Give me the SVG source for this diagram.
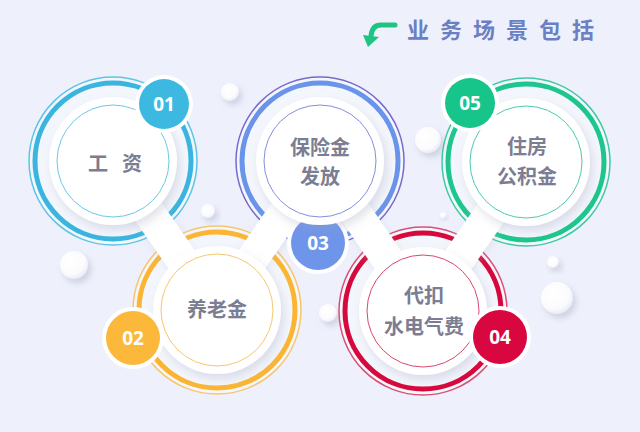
<svg xmlns="http://www.w3.org/2000/svg" width="640" height="432" viewBox="0 0 640 432">
<defs>
<filter id="sh" x="-30%" y="-30%" width="160%" height="160%">
<feDropShadow dx="3" dy="5" stdDeviation="5" flood-color="#9aa0b8" flood-opacity="0.3"/>
</filter>
<filter id="shn" x="-30%" y="-30%" width="160%" height="160%">
<feDropShadow dx="1" dy="2" stdDeviation="4" flood-color="#b4b8cc" flood-opacity="0.25"/>
</filter>
<filter id="shs" x="-50%" y="-50%" width="200%" height="200%">
<feDropShadow dx="3" dy="4" stdDeviation="3" flood-color="#9aa0b8" flood-opacity="0.4"/>
</filter>
<radialGradient id="ball" cx="0.4" cy="0.35" r="0.7">
<stop offset="0" stop-color="#ffffff"/>
<stop offset="0.7" stop-color="#fbfbfe"/>
<stop offset="1" stop-color="#e6e8f2"/>
</radialGradient>
<style>
.halo{fill:#ffffff;fill-opacity:0.35}
.thick{fill:none;stroke-width:5}
.thin{fill:none;stroke-width:1.5}
.disc{fill:#ffffff;filter:url(#sh)}
.inner{fill:#ffffff;stroke-width:1}
.lbl{font-family:"Noto Sans CJK SC","Noto Sans",sans-serif;font-weight:700;font-size:20px;fill:#7b7d92;text-anchor:middle}
.num{font-family:"Open Sans","Noto Sans",sans-serif;font-weight:700;font-size:19px;fill:#ffffff;text-anchor:middle}
.bw{fill:#ffffff}
.neck{stroke:#ffffff;stroke-width:32;stroke-linecap:round;fill:none}
.ball{fill:url(#ball);filter:url(#shs)}
</style>
</defs>
<rect width="640" height="432" fill="#eef1fc"/>

<!-- title -->
<g id="title">
<path d="M395,25 H381 Q372,25 371,36" fill="none" stroke="#1fc383" stroke-width="5" stroke-linecap="round"/>
<polygon points="363,35 379,37 368,47" fill="#1fc383"/>
<text x="407" y="38" font-family="Noto Sans CJK SC,Noto Sans,sans-serif" font-weight="700" font-size="22" letter-spacing="11" fill="#6b80c4">业务场景包括</text>
</g>

<!-- decorative spheres -->
<g id="spheres">
<circle class="ball" cx="230" cy="92" r="9"/>
<circle class="ball" cx="428" cy="140" r="13"/>
<circle class="ball" cx="74" cy="265" r="14"/>
<circle class="ball" cx="208" cy="211" r="7"/>
<circle class="ball" cx="443" cy="215" r="3"/>
<circle class="ball" cx="553" cy="262" r="6"/>
<circle class="ball" cx="557" cy="298" r="16"/>
<circle class="ball" cx="328" cy="313" r="9"/>
</g>

<!-- rings -->
<g id="rings">
<g id="rings-01">
<circle class="halo" cx="113" cy="161" r="84"/>
<circle class="thin" cx="113" cy="161" r="84" stroke="#5cc4e6"/>
<circle class="thick" cx="113" cy="161" r="78" stroke="#3ab5df"/>
</g>
<g id="rings-03">
<circle class="halo" cx="320" cy="161" r="84"/>
<circle class="thin" cx="320" cy="161" r="84" stroke="#7a68cc"/>
<circle class="thick" cx="320" cy="161" r="78" stroke="#6a93ea"/>
</g>
<g id="rings-05">
<circle class="halo" cx="526" cy="162" r="84"/>
<circle class="thin" cx="526" cy="162" r="84" stroke="#3fcaa2"/>
<circle class="thick" cx="526" cy="162" r="78" stroke="#1dc68c"/>
</g>
<g id="rings-02">
<circle class="halo" cx="217" cy="310" r="84"/>
<circle class="thin" cx="217" cy="310" r="84" stroke="#f7c66c"/>
<circle class="thick" cx="217" cy="310" r="78" stroke="#fbb532"/>
</g>
<g id="rings-04">
<circle class="halo" cx="423" cy="311" r="84"/>
<circle class="thin" cx="423" cy="311" r="84" stroke="#db4f74"/>
<circle class="thick" cx="423" cy="311" r="78" stroke="#d6093c"/>
</g>
</g>

<!-- connectors (white necks) -->
<g id="connectors" filter="url(#shn)">
<line class="neck" x1="113" y1="161" x2="217" y2="310"/>
<line class="neck" x1="320" y1="161" x2="217" y2="310"/>
<line class="neck" x1="320" y1="161" x2="423" y2="311"/>
<line class="neck" x1="526" y1="162" x2="423" y2="311"/>
</g>

<!-- badge 03 sits beneath disc 3 -->
<g id="badge-03">
<circle class="bw" cx="318" cy="243" r="31"/>
<circle cx="318" cy="243" r="27" fill="#6f95ea"/>
<text class="num" x="318" y="250">03</text>
</g>

<g id="node-01">
<circle class="disc" cx="113" cy="161" r="64"/>
<circle class="inner" cx="113" cy="161" r="56" stroke="#6cc9e7"/>
<text class="lbl" x="88 122" y="171" style="text-anchor:start">工资</text>
<circle class="bw" cx="164" cy="104" r="29"/>
<circle cx="164" cy="104" r="25" fill="#3db9e1"/>
<text class="num" x="164" y="111">01</text>
</g>

<g id="node-02">
<circle class="disc" cx="217" cy="310" r="64"/>
<circle class="inner" cx="217" cy="310" r="56" stroke="#f6c770"/>
<text class="lbl" x="217" y="317">养老金</text>
<circle class="bw" cx="133" cy="338" r="31"/>
<circle cx="133" cy="338" r="27" fill="#fbb83a"/>
<text class="num" x="133" y="345">02</text>
</g>

<g id="node-03">
<circle class="disc" cx="320" cy="161" r="64"/>
<circle class="inner" cx="320" cy="161" r="56" stroke="#7f90dd"/>
<text class="lbl" x="320" y="155">保险金</text>
<text class="lbl" x="320" y="184">发放</text>
</g>

<g id="node-04">
<circle class="disc" cx="423" cy="311" r="64"/>
<circle class="inner" cx="423" cy="311" r="56" stroke="#d8496e"/>
<text class="lbl" x="424" y="303">代扣</text>
<text class="lbl" x="424" y="334">水电气费</text>
<circle class="bw" cx="500" cy="337" r="31"/>
<circle cx="500" cy="337" r="27" fill="#d9073f"/>
<text class="num" x="500" y="344">04</text>
</g>

<g id="node-05">
<circle class="disc" cx="526" cy="162" r="64"/>
<circle class="inner" cx="526" cy="162" r="56" stroke="#4ccab2"/>
<text class="lbl" x="527" y="154">住房</text>
<text class="lbl" x="527" y="184">公积金</text>
<circle class="bw" cx="470" cy="103" r="29"/>
<circle cx="470" cy="103" r="25" fill="#17c48a"/>
<text class="num" x="470" y="110">05</text>
</g>
</svg>
